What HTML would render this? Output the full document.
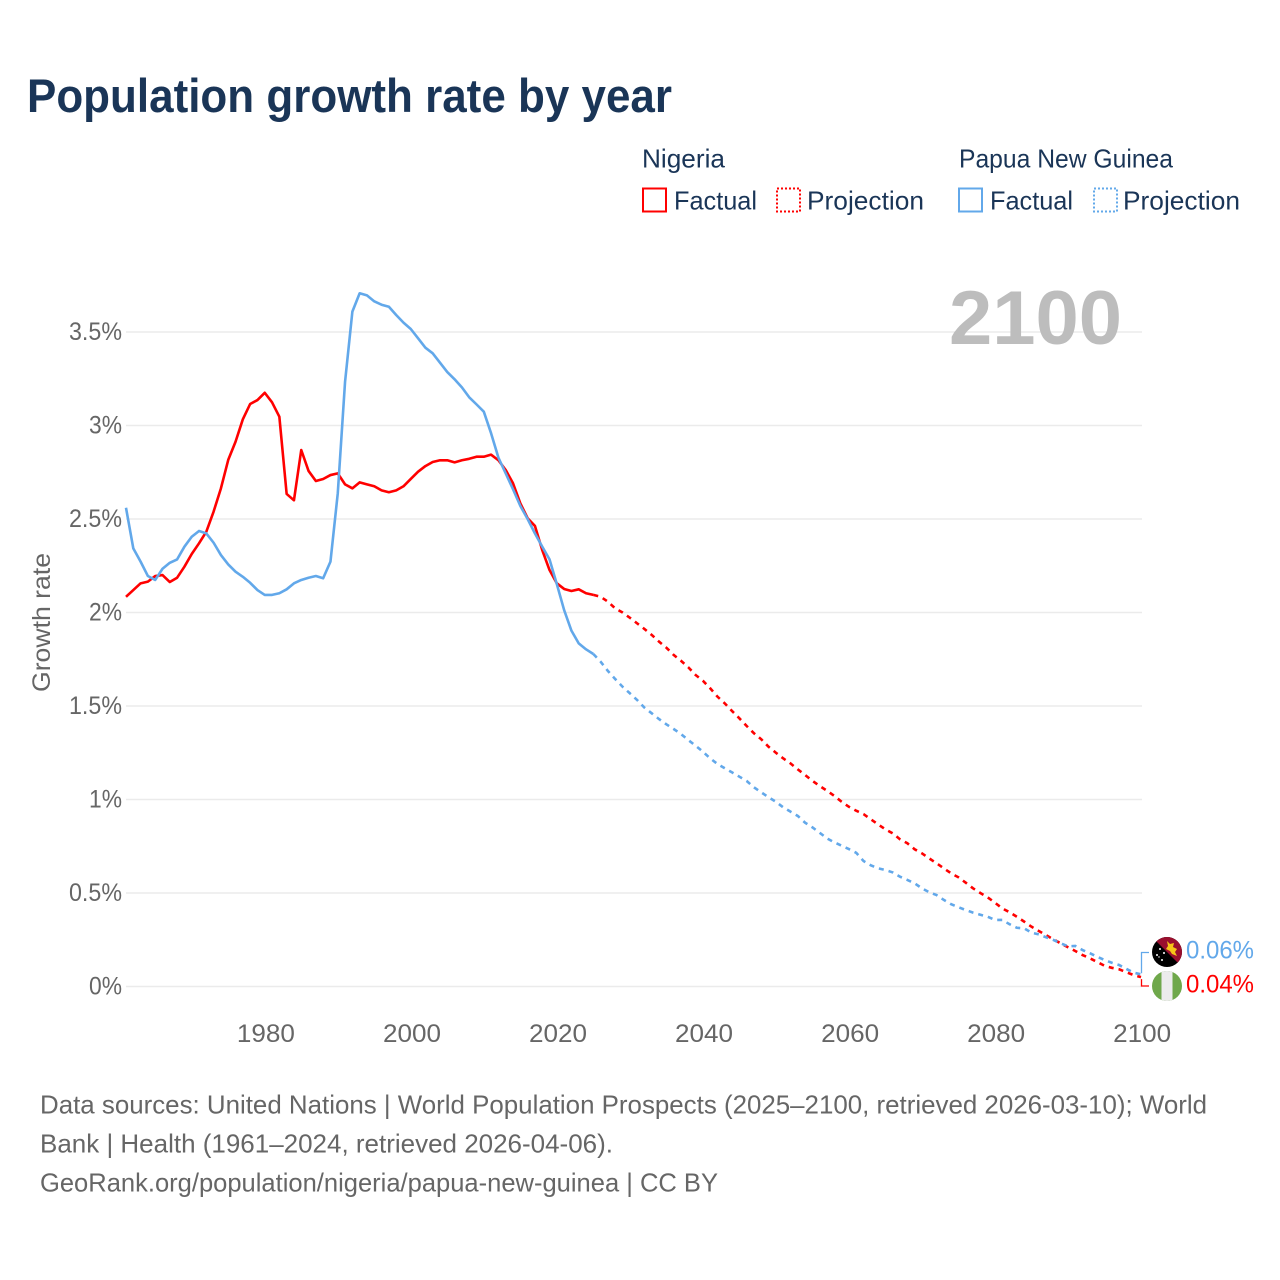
<!DOCTYPE html>
<html lang="en">
<head>
<meta charset="utf-8">
<title>Population growth rate by year</title>
<style>
  html, body { margin: 0; padding: 0; background: #ffffff; }
  svg { display: block; font-family: "Liberation Sans", sans-serif; }
</style>
</head>
<body>
<svg id="chart" xmlns="http://www.w3.org/2000/svg" width="1280" height="1280" viewBox="0 0 1280 1280">
  <rect x="0" y="0" width="1280" height="1280" fill="#ffffff"/>

  <text x="27" y="112" font-size="47" font-weight="700" fill="#1a3557" textLength="645" lengthAdjust="spacingAndGlyphs">Population growth rate by year</text>

  <g font-size="26" fill="#1a3557">
    <text x="642" y="167.5" textLength="83" lengthAdjust="spacingAndGlyphs">Nigeria</text>
    <text x="959" y="167.5" textLength="214" lengthAdjust="spacingAndGlyphs">Papua New Guinea</text>

    <rect x="643" y="188.5" width="23" height="23" fill="none" stroke="#ff0000" stroke-width="2"/>
    <text x="674" y="209.5" textLength="83" lengthAdjust="spacingAndGlyphs">Factual</text>
    <rect x="777" y="188.5" width="23" height="23" fill="none" stroke="#ff0000" stroke-width="2" stroke-dasharray="2 2"/>
    <text x="807" y="209.5" textLength="117" lengthAdjust="spacingAndGlyphs">Projection</text>

    <rect x="959" y="188.5" width="23" height="23" fill="none" stroke="#62a8ea" stroke-width="2"/>
    <text x="990" y="209.5" textLength="83" lengthAdjust="spacingAndGlyphs">Factual</text>
    <rect x="1094" y="188.5" width="23" height="23" fill="none" stroke="#62a8ea" stroke-width="2" stroke-dasharray="2 2"/>
    <text x="1123" y="209.5" textLength="117" lengthAdjust="spacingAndGlyphs">Projection</text>
  </g>

  <text transform="translate(50,622.5) rotate(-90)" text-anchor="middle" font-size="25" fill="#666666" textLength="139" lengthAdjust="spacingAndGlyphs">Growth rate</text>

  <g id="grid"></g>
  <g id="y-ticks"></g>
  <g id="x-ticks"></g>

  <text x="949" y="344" font-size="76" font-weight="700" fill="#bdbdbd" textLength="173" lengthAdjust="spacingAndGlyphs">2100</text>

  <g id="series"></g>
  <g id="end-labels"></g>

  <defs>
    <clipPath id="clip-png"><circle cx="1167" cy="952" r="15"/></clipPath>
    <clipPath id="clip-ng"><circle cx="1167" cy="986" r="15"/></clipPath>
  </defs>

  <g clip-path="url(#clip-png)">
    <rect x="1152" y="937" width="30" height="30" fill="#000000"/>
    <polygon points="1152,937 1182,937 1182,967" fill="#9a0f2e"/>
    <polygon points="1167,941 1170,944 1174,943 1173,947 1177,949 1175,952 1177,956 1172,954 1170,951 1166,949 1168,946" fill="#f5c518"/>
    <circle cx="1160" cy="949" r="1" fill="#ffffff"/>
    <circle cx="1164" cy="953" r="1" fill="#ffffff"/>
    <circle cx="1157" cy="955" r="1" fill="#ffffff"/>
    <circle cx="1162" cy="960" r="1" fill="#ffffff"/>
    <circle cx="1159" cy="957" r="0.7" fill="#ffffff"/>
  </g>
  <g clip-path="url(#clip-ng)">
    <rect x="1152" y="971" width="30" height="30" fill="#6fa84b"/>
    <rect x="1161.5" y="971" width="11" height="30" fill="#ececec"/>
  </g>

  <g font-size="26" fill="#666666">
    <text x="40" y="1113.5" textLength="1167" lengthAdjust="spacingAndGlyphs">Data sources: United Nations | World Population Prospects (2025–2100, retrieved 2026-03-10); World</text>
    <text x="40" y="1152.5" textLength="573" lengthAdjust="spacingAndGlyphs">Bank | Health (1961–2024, retrieved 2026-04-06).</text>
    <text x="40" y="1191.5" textLength="678" lengthAdjust="spacingAndGlyphs">GeoRank.org/population/nigeria/papua-new-guinea | CC BY</text>
  </g>
</svg>

<script>
var yTickValues = [0, 0.5, 1, 1.5, 2, 2.5, 3, 3.5];
var yTickLabels = ["0%", "0.5%", "1%", "1.5%", "2%", "2.5%", "3%", "3.5%"];
var xTickYears = [1980, 2000, 2020, 2040, 2060, 2080, 2100];

var factualStartYear = 1961;
var projectionStartYear = 2025;

var nigeriaFactual = [
  2.084, 2.12, 2.156, 2.165, 2.195, 2.20, 2.163, 2.186, 2.245, 2.313,
  2.37, 2.432, 2.54, 2.664, 2.816, 2.913, 3.033, 3.115, 3.136, 3.175,
  3.124, 3.047, 2.634, 2.60, 2.869, 2.757, 2.703, 2.714, 2.735, 2.744,
  2.685, 2.664, 2.696, 2.685, 2.675, 2.653, 2.643, 2.653, 2.675, 2.714,
  2.753, 2.783, 2.805, 2.814, 2.814, 2.803, 2.814, 2.822, 2.833, 2.833,
  2.844, 2.814, 2.762, 2.691, 2.584, 2.504, 2.463, 2.334, 2.227, 2.156,
  2.126, 2.115, 2.124, 2.103, 2.094
];
var papuaFactual = [
  2.56, 2.343, 2.272, 2.195, 2.174, 2.234, 2.266, 2.284, 2.352, 2.405,
  2.436, 2.423, 2.373, 2.307, 2.257, 2.218, 2.191, 2.159, 2.12, 2.094,
  2.094, 2.103, 2.124, 2.156, 2.174, 2.186, 2.195, 2.183, 2.272, 2.637,
  3.234, 3.609, 3.707, 3.696, 3.664, 3.646, 3.635, 3.591, 3.55, 3.516,
  3.466, 3.416, 3.386, 3.336, 3.286, 3.247, 3.204, 3.151, 3.113, 3.074,
  2.958, 2.828, 2.744, 2.659, 2.57, 2.50, 2.423, 2.352, 2.284, 2.152,
  2.013, 1.903, 1.835, 1.803, 1.778
];
var nigeriaProjection = [
  2.094, 2.084, 2.058, 2.022, 2.0, 1.972, 1.942, 1.912, 1.88, 1.844,
  1.812, 1.773, 1.742, 1.707, 1.666, 1.635, 1.595, 1.55, 1.514, 1.473,
  1.434, 1.393, 1.354, 1.322, 1.282, 1.25, 1.22, 1.193, 1.161, 1.131,
  1.10, 1.072, 1.047, 1.019, 0.988, 0.961, 0.94, 0.922, 0.894, 0.867,
  0.84, 0.819, 0.787, 0.766, 0.734, 0.712, 0.685, 0.659, 0.632, 0.605,
  0.584, 0.555, 0.525, 0.50, 0.477, 0.448, 0.418, 0.397, 0.373, 0.347,
  0.32, 0.297, 0.275, 0.252, 0.231, 0.21, 0.19, 0.168, 0.151, 0.131,
  0.111, 0.10, 0.092, 0.076, 0.061, 0.05
];
var papuaProjection = [
  1.778, 1.737, 1.687, 1.644, 1.603, 1.568, 1.532, 1.491, 1.461, 1.43,
  1.402, 1.377, 1.35, 1.318, 1.288, 1.256, 1.22, 1.19, 1.167, 1.145,
  1.122, 1.099, 1.065, 1.038, 1.012, 0.988, 0.958, 0.935, 0.912, 0.876,
  0.851, 0.822, 0.792, 0.771, 0.753, 0.735, 0.715, 0.671, 0.648, 0.632,
  0.623, 0.61, 0.587, 0.57, 0.552, 0.525, 0.504, 0.489, 0.463, 0.44,
  0.424, 0.409, 0.395, 0.384, 0.373, 0.356, 0.356, 0.333, 0.314, 0.311,
  0.288, 0.279, 0.263, 0.249, 0.231, 0.215, 0.217, 0.195, 0.178, 0.159,
  0.142, 0.127, 0.115, 0.094, 0.074, 0.065
];
var endLabels = ["0.06%", "0.04%"];

var SVG_NS = "http://www.w3.org/2000/svg";
var BLUE = "#62a8ea";
var RED = "#ff0000";

function xScale(year) { return 126 + (year - 1961) * (1015 / 139); }
function yScale(value) { return 986.5 - value * 187; }

function make(tag, attrs, parent) {
  var el = document.createElementNS(SVG_NS, tag);
  for (var k in attrs) { el.setAttribute(k, attrs[k]); }
  parent.appendChild(el);
  return el;
}

function linePath(values, startYear) {
  var d = "";
  for (var i = 0; i < values.length; i++) {
    d += (i === 0 ? "M" : "L") + xScale(startYear + i).toFixed(2) + " " + yScale(values[i]).toFixed(2);
  }
  return d;
}

var gridGroup = document.getElementById("grid");
var yTickGroup = document.getElementById("y-ticks");
var xTickGroup = document.getElementById("x-ticks");
var seriesGroup = document.getElementById("series");
var endGroup = document.getElementById("end-labels");

yTickValues.forEach(function (v, i) {
  var line = make("line", { x1: 126, x2: 1142, y1: yScale(v), y2: yScale(v), stroke: "#ebebeb", "stroke-width": 1.6 }, gridGroup);
  
  
  var label = make("text", { x: 122, y: yScale(v) + 7.8, "text-anchor": "end", "font-size": 25, fill: "#666666", textLength: yTickLabels[i].length > 2 ? 53 : 33, lengthAdjust: "spacingAndGlyphs" }, yTickGroup);
  label.textContent = yTickLabels[i];
  
  
});

xTickYears.forEach(function (year) {
  var label = make("text", { x: xScale(year) + 1.2, y: 1042, "text-anchor": "middle", "font-size": 25, fill: "#666666", textLength: 58, lengthAdjust: "spacingAndGlyphs" }, xTickGroup);
  label.textContent = String(year);
  
  
});

var nigeriaProjectionLine = make("path", { d: linePath(nigeriaProjection, projectionStartYear), fill: "none", stroke: RED, "stroke-width": 2.6, "stroke-dasharray": "5 5" }, seriesGroup);



var nigeriaFactualLine = make("path", { d: linePath(nigeriaFactual, factualStartYear), fill: "none", stroke: RED, "stroke-width": 2.6, "stroke-linejoin": "round" }, seriesGroup);



var papuaProjectionLine = make("path", { d: linePath(papuaProjection, projectionStartYear), fill: "none", stroke: BLUE, "stroke-width": 2.6, "stroke-dasharray": "5 5" }, seriesGroup);



var papuaFactualLine = make("path", { d: linePath(papuaFactual, factualStartYear), fill: "none", stroke: BLUE, "stroke-width": 2.6, "stroke-linejoin": "round" }, seriesGroup);



var papuaEndY = yScale(papuaProjection[papuaProjection.length - 1]);
var nigeriaEndY = yScale(nigeriaProjection[nigeriaProjection.length - 1]);

var blueBracket = make("path", { d: "M1149 952.5H1141.5V" + (papuaEndY - 1).toFixed(1), fill: "none", stroke: BLUE, "stroke-width": 1.3 }, endGroup);



var redBracket = make("path", { d: "M1141.5 " + (nigeriaEndY + 2).toFixed(1) + "V986H1149", fill: "none", stroke: RED, "stroke-width": 1.3 }, endGroup);



var papuaEndLabel = make("text", { x: 1186, y: 958.5, "font-size": 25, fill: BLUE, textLength: 68, lengthAdjust: "spacingAndGlyphs" }, endGroup);
papuaEndLabel.textContent = endLabels[0];



var nigeriaEndLabel = make("text", { x: 1186, y: 992.5, "font-size": 25, fill: RED, textLength: 68, lengthAdjust: "spacingAndGlyphs" }, endGroup);
nigeriaEndLabel.textContent = endLabels[1];


</script>
</body>
</html>
